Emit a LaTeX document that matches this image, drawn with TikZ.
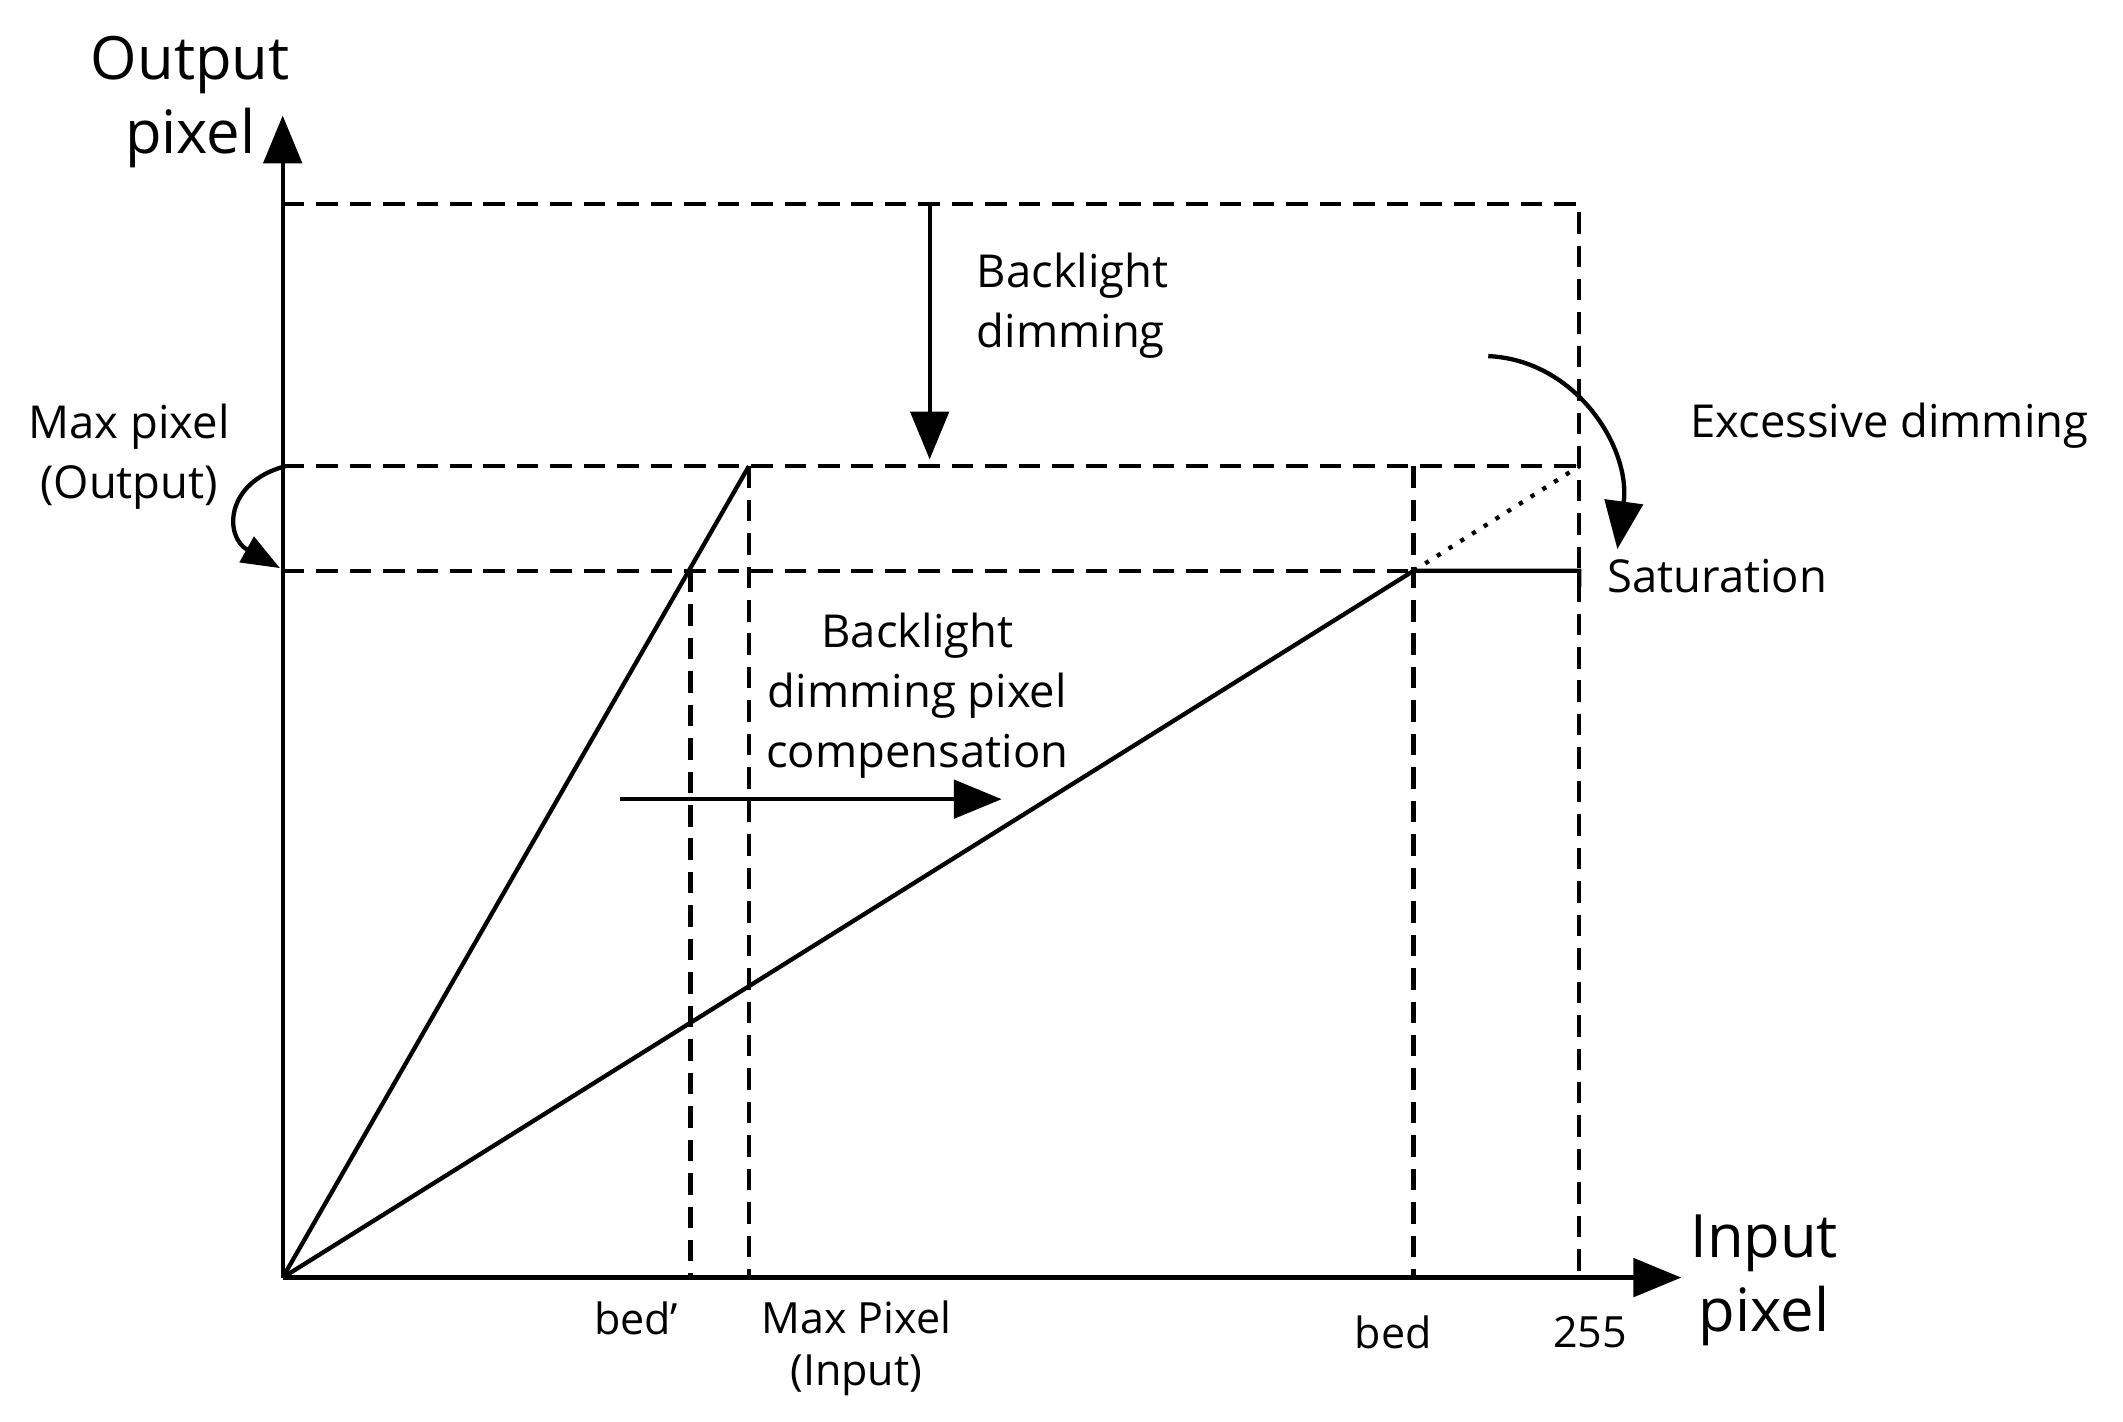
\documentclass[tikz,border=0pt]{standalone}
\usepackage{fontspec}
\setmainfont{Open Sans}
\usetikzlibrary{arrows.meta}
\begin{document}
\begin{tikzpicture}[x=0.01cm,y=-0.01cm,
  ln/.style={line width=0.9pt},
  dsh/.style={ln,dash pattern=on 4.5pt off 2.5pt},
  arr/.style={ln,-{Triangle[length=10pt,width=8pt]}},
  lbl/.style={font=\fontsize{9.5}{12.5}\selectfont,align=center,inner sep=0pt},
  big/.style={font=\fontsize{12.5}{15.5}\selectfont,align=center,inner sep=0pt},
  sml/.style={font=\fontsize{9}{11}\selectfont,align=center,inner sep=0pt}]
\useasboundingbox (0,0) rectangle (1562,1046);
\coordinate (O) at (208,940);
\coordinate (ytip) at (208,85);
\coordinate (xtip) at (1237,940);
\coordinate (T1) at (208,150); \coordinate (T2) at (1162,150);
\coordinate (M1) at (208,343); \coordinate (M2) at (1162,343);
\coordinate (S1) at (208,420); \coordinate (S2) at (1040,420); \coordinate (S3) at (1162,420);
\coordinate (P) at (551,343); \coordinate (Pb) at (551,940);
\coordinate (Q) at (508,420); \coordinate (Qb) at (508,940);
\coordinate (Bt) at (1040,343); \coordinate (Bb) at (1040,940);
\coordinate (Eb) at (1162,940);
% dashed
\draw[dsh] (T1) -- (T2) -- (Eb);
\draw[dsh] (M1) -- (M2);
\draw[dsh] (S1) -- (S2);
\draw[dsh] (P) -- (Pb);
\draw[dsh] (Q) -- (Qb);
\draw[dsh] (Bt) -- (Bb);
% curves
\draw[ln] (O) -- (P);
\draw[ln] (O) -- (S2) -- (S3) -- ++(0,12);
\draw[ln,dotted] (S2) -- (M2);
% axes
\draw[arr] (O) -- (ytip);
\draw[arr] (O) -- (xtip);
% arrows
\coordinate (a1) at (684,150); \coordinate (a2) at (684,338);
\draw[arr] (a1) -- (a2);
\coordinate (b1) at (456,588); \coordinate (b2) at (737,588);
\draw[arr] (b1) -- (b2);
\coordinate (c1) at (210,343); \coordinate (c2) at (206,418);
\draw[ln,-{Triangle[length=8pt,width=6pt]}] (c1) .. controls (165,355) and (165,395) .. (c2);
\coordinate (d1) at (1095,262); \coordinate (d2) at (1190,404);
\draw[ln,-{Triangle[length=10pt,width=8pt]}] (d1) .. controls (1160,265) and (1200,330) .. (d2);
% labels
\node[big] (ylab) at (140,75) {Output\\pixel};
\node[big] (xlab) at (1298,942) {Input\\pixel};
\node[lbl,anchor=west,align=left] (bd) at (718,225) {Backlight\\dimming};
\node[lbl,anchor=west] (ex) at (1243,313) {Excessive dimming};
\node[lbl,anchor=west] (sat) at (1182,424) {Saturation};
\node[lbl] (mp) at (95,336) {Max pixel\\(Output)};
\node[lbl] (bdc) at (675,512) {Backlight\\dimming pixel\\compensation};
\node[sml] (bedp) at (468,970) {bed'};
\node[sml] (mpi) at (630,992) {Max Pixel\\(Input)};
\node[sml] (bed) at (1025,980) {bed};
\node[sml] (n255) at (1170,980) {255};
\end{tikzpicture}
\end{document}
